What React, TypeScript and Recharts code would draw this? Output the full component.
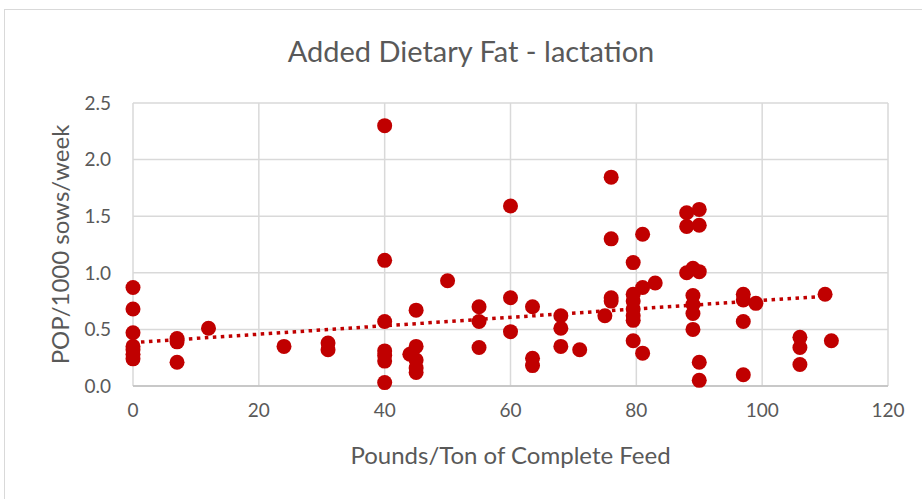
import React from 'react'
import {
  ScatterChart,
  Scatter,
  XAxis,
  YAxis,
  CartesianGrid,
} from 'recharts'

// feed level (lb/ton) and the POP rates recorded at that level
const feedLevels = [0, 7, 12, 24, 31, 40, 44, 45, 50, 55, 60, 63.5, 68, 71, 75, 76, 79.5, 81, 83, 88, 89, 90, 97, 99, 106, 110, 111]
const popRates = [
  [0.87, 0.68, 0.47, 0.35, 0.32, 0.28, 0.24],
  [0.42, 0.39, 0.21],
  [0.51],
  [0.35],
  [0.38, 0.32],
  [2.3, 1.11, 0.57, 0.31, 0.27, 0.22, 0.03],
  [0.28],
  [0.67, 0.35, 0.23, 0.16, 0.12],
  [0.93],
  [0.7, 0.57, 0.34],
  [1.59, 0.78, 0.48],
  [0.7, 0.245, 0.18],
  [0.62, 0.51, 0.35],
  [0.32],
  [0.62],
  [1.845, 1.3, 0.78, 0.75],
  [1.09, 0.81, 0.75, 0.68, 0.62, 0.58, 0.4],
  [1.34, 0.87, 0.29],
  [0.91],
  [1.53, 1.41, 1.0],
  [1.04, 0.8, 0.72, 0.64, 0.5],
  [1.56, 1.42, 1.01, 0.21, 0.05],
  [0.81, 0.76, 0.57, 0.1],
  [0.73],
  [0.43, 0.34, 0.19],
  [0.81],
  [0.4],
]

// linear trendline end points
const trendX = [0, 110.8]
const trendY = [0.383, 0.796]

const xTicks = [0, 20, 40, 60, 80, 100, 120]
const yTicks = [0, 0.5, 1, 1.5, 2, 2.5]

const points = feedLevels.flatMap((x, i) => popRates[i].map((y) => ({ x, y })))
const trend = trendX.map((x, i) => ({ x, y: trendY[i] }))

const textColor = '#595959'
const font = 'Lato, "Open Sans", sans-serif'

export default function App() {
  return (
    <div
      style={{
        position: 'fixed',
        left: 0,
        top: 0,
        width: 922,
        height: 499,
        overflow: 'hidden',
        background: '#fff',
        fontFamily: font,
      }}
    >
      <div
        style={{
          position: 'absolute',
          left: 4,
          top: 9,
          width: 940,
          height: 520,
          border: '1px solid #d9d9d9',
        }}
      />
      <div
        style={{
          position: 'absolute',
          left: 4,
          top: 33,
          width: 934,
          textAlign: 'center',
          fontSize: 29,
          color: textColor,
        }}
      >
        Added Dietary Fat - lactation
      </div>
      <div style={{ position: 'absolute', left: 0, top: 0 }}>
        <ScatterChart
          width={922}
          height={499}
          margin={{ top: 103, right: 34, bottom: 83, left: 10 }}
        >
          <CartesianGrid stroke="#d9d9d9" strokeWidth={1.5} />
          <XAxis
            type="number"
            dataKey="x"
            domain={[0, 120]}
            ticks={xTicks}
            height={30}
            tickLine={false}
            tickMargin={12}
            axisLine={{ stroke: '#bfbfbf', strokeWidth: 1.5 }}
            tick={{ fill: textColor, fontSize: 19, fontFamily: font }}
            label={{
              value: 'Pounds/Ton of Complete Feed',
              position: 'bottom',
              offset: 31,
              style: { fill: textColor, fontSize: 24, fontFamily: font },
            }}
          />
          <YAxis
            type="number"
            dataKey="y"
            domain={[0, 2.5]}
            ticks={yTicks}
            width={123}
            tickLine={false}
            tickMargin={16}
            axisLine={false}
            tickFormatter={(v: number) => v.toFixed(1)}
            tick={{ fill: textColor, fontSize: 19, fontFamily: font }}
            label={{
              value: 'POP/1000 sows/week',
              angle: -90,
              position: 'insideLeft',
              offset: 50,
              style: { textAnchor: 'middle', fill: textColor, fontSize: 24, fontFamily: font },
            }}
          />
          <Scatter
            data={trend}
            line={{ stroke: '#c00000', strokeWidth: 3.5, strokeDasharray: '3.5 4.5' }}
            shape={() => <g />}
            isAnimationActive={false}
          />
          <Scatter data={points} fill="#c00000" isAnimationActive={false} shape={(p: any) => <circle cx={p.cx} cy={p.cy} r={7.5} fill="#c00000" />} />
        </ScatterChart>
      </div>
    </div>
  )
}
